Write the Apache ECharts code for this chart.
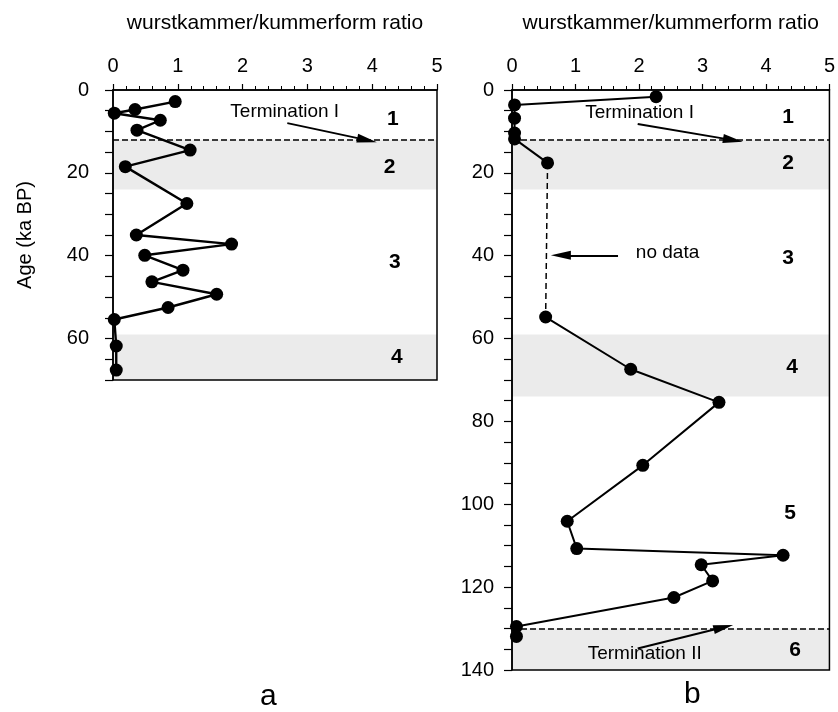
<!DOCTYPE html>
<html>
<head>
<meta charset="utf-8">
<script src="https://cdn.jsdelivr.net/npm/echarts@6/dist/echarts.min.js"></script>
<style>html,body{margin:0;padding:0;background:#fff}#c{width:838px;height:712px}</style>
</head>
<body>
<div id="c"></div>
<script>
// ---- data (panel a) ----
const aRatio = [0.96, 0.34, 0.02, 0.73, 0.37, 1.19, 0.19, 1.14, 0.36, 1.83, 0.49, 1.08, 0.60, 1.60, 0.85, 0.02, 0.05, 0.05];
const aAge   = [2.8, 4.7, 5.6, 7.3, 9.7, 14.5, 18.5, 27.4, 35.0, 37.2, 39.9, 43.5, 46.3, 49.3, 52.5, 55.4, 61.8, 67.6];
// ---- data (panel b) ----
const bTopRatio = [2.27, 0.04, 0.04, 0.04, 0.04, 0.56];
const bTopAge   = [1.6, 3.6, 6.8, 10.4, 11.8, 17.6];
const bBotRatio = [0.53, 1.87, 3.26, 2.06, 0.87, 1.02, 4.27, 2.98, 3.16, 2.55, 0.07, 0.07];
const bBotAge   = [54.8, 67.4, 75.4, 90.6, 104.1, 110.7, 112.3, 114.6, 118.5, 122.5, 129.5, 131.9];
// ---- axes ----
const xTicks = [0, 1, 2, 3, 4, 5];
const aAgeMax = 70, bAgeMax = 140;
// ---- stage bands [from, to] and terminations ----
const aBands = [[12, 24], [59, 70]];
const bBands = [[12, 24], [59, 74], [130, 140]];
const aTerm = [12];
const bTerm = [12, 130];
// ---- annotation texts [ratio, age, text, bold] ----
const aLabels = [[2.65, 5.3, 'Termination I', false], [4.32, 7.0, '1', true], [4.27, 18.6, '2', true], [4.35, 41.5, '3', true], [4.38, 64.5, '4', true]];
const bLabels = [[2.01, 5.6, 'Termination I', false], [4.35, 6.5, '1', true], [4.35, 17.6, '2', true], [4.35, 40.6, '3', true], [4.41, 66.9, '4', true], [4.38, 102.2, '5', true], [4.46, 135.3, '6', true], [2.45, 39.4, 'no data', false], [2.09, 136.0, 'Termination II', false]];
const aArrows = [[[2.69, 8.0], [3.92, 12.1]]];
const bArrows = [[[1.98, 8.2], [3.48, 12.1]], [[1.67, 39.9], [0.77, 39.9]], [[1.98, 134.8], [3.33, 129.7]]];

const FONT = 'Liberation Sans, Arial, Helvetica, sans-serif';
const pairs = (xs, ys) => xs.map((v, i) => [v, ys[i]]);

function xAxisCfg(gi) {
  return {
    type: 'value', gridIndex: gi, position: 'top', min: xTicks[0], max: xTicks[xTicks.length - 1], interval: 1,
    name: 'wurstkammer/kummerform ratio', nameLocation: 'middle', nameGap: 56,
    nameTextStyle: { fontFamily: FONT, fontSize: 21, color: '#000' },
    axisLine: { lineStyle: { color: '#000', width: 1.5 } },
    axisTick: { inside: false, length: 6, lineStyle: { color: '#000', width: 1.2 } },
    minorTick: { show: true, splitNumber: 5, length: 4, lineStyle: { color: '#000', width: 1 } },
    axisLabel: { fontFamily: FONT, fontSize: 20, color: '#000', margin: 14 },
    splitLine: { show: false }
  };
}
function yAxisCfg(gi, max, withName, margin) {
  return {
    type: 'value', gridIndex: gi, inverse: true, min: 0, max: max, interval: 20,
    name: withName ? 'Age (ka BP)' : '', nameLocation: 'middle', nameGap: 78,
    nameTextStyle: { fontFamily: FONT, fontSize: 20, color: '#000' },
    axisLine: { lineStyle: { color: '#000', width: 1.5 } },
    axisTick: { length: 8, lineStyle: { color: '#000', width: 1.2 } },
    minorTick: { show: true, splitNumber: 4, length: 8, lineStyle: { color: '#000', width: 1.2 } },
    axisLabel: { fontFamily: FONT, fontSize: 20, color: '#000', margin: margin,
      formatter: v => (v % 20 === 0 ? String(v) : '') },
    splitLine: { show: false }
  };
}
function bandArea(bands) {
  return {
    silent: true,
    itemStyle: { color: 'rgba(0,0,0,0.08)' },
    data: bands.map(b => [{ yAxis: b[0] }, { yAxis: b[1] }])
  };
}
function termLines(ts) {
  return {
    silent: true, symbol: 'none', label: { show: false },
    lineStyle: { color: '#000', type: [6, 3], width: 1.5 },
    data: ts.map(t => ({ yAxis: t }))
  };
}
function labelSeries(gi, labels) {
  return {
    type: 'scatter', xAxisIndex: gi, yAxisIndex: gi, symbolSize: 0, silent: true,
    itemStyle: { opacity: 1 },
    data: labels.map(l => ({ value: [l[0], l[1]], label: {
      show: true, position: 'inside', formatter: l[2], color: '#000', fontFamily: FONT,
      fontSize: l[3] ? 21 : 19, fontWeight: l[3] ? 'bold' : 'normal' } }))
  };
}
function arrowSeries(gi, arrows) {
  return {
    type: 'line', xAxisIndex: gi, yAxisIndex: gi, data: [], silent: true,
    markLine: {
      silent: true, symbol: ['none', 'triangle'], symbolSize: [9, 20], label: { show: false },
      lineStyle: { color: '#000', type: 'solid', width: 2 },
      itemStyle: { color: '#000' },
      data: arrows.map(a => [{ coord: a[0] }, { coord: a[1] }])
    }
  };
}
const pointStyle = {
  type: 'line', symbol: 'circle', symbolSize: 13, showSymbol: true,
  lineStyle: { color: '#000', width: 2 }, itemStyle: { color: '#000' }
};

const bTop = pairs(bTopRatio, bTopAge);
const bBot = pairs(bBotRatio, bBotAge);

const option = {
  animation: false,
  backgroundColor: '#fff',
  grid: [
    { left: 113, top: 90, width: 324, height: 290, show: true, borderColor: '#000', borderWidth: 1.5 },
    { left: 512, top: 90, width: 323, height: 580, show: true, borderColor: '#000', borderWidth: 1.5 }
  ],
  xAxis: [xAxisCfg(0), xAxisCfg(1)],
  yAxis: [yAxisCfg(0, aAgeMax, true, 24), yAxisCfg(1, bAgeMax, false, 18)],
  series: [
    Object.assign({}, pointStyle, { xAxisIndex: 0, yAxisIndex: 0, data: pairs(aRatio, aAge),
      lineStyle: { color: '#000', width: 2.4 },
      markArea: bandArea(aBands), markLine: termLines(aTerm) }),
    labelSeries(0, aLabels),
    arrowSeries(0, aArrows),
    Object.assign({}, pointStyle, { xAxisIndex: 1, yAxisIndex: 1, data: bTop,
      markArea: bandArea(bBands), markLine: termLines(bTerm) }),
    Object.assign({}, pointStyle, { xAxisIndex: 1, yAxisIndex: 1, data: bBot }),
    { type: 'line', xAxisIndex: 1, yAxisIndex: 1, symbol: 'none', silent: true,
      lineStyle: { color: '#000', width: 1.5, type: [6, 4] },
      data: [bTop[bTop.length - 1], bBot[0]], z: 1 },
    labelSeries(1, bLabels),
    arrowSeries(1, bArrows)
  ],
  graphic: [
    { type: 'text', left: 260, top: 682, style: { text: 'a', font: '30px ' + FONT, fill: '#000' } },
    { type: 'text', left: 684, top: 680, style: { text: 'b', font: '30px ' + FONT, fill: '#000' } }
  ]
};
echarts.init(document.getElementById('c')).setOption(option);
</script>
</body>
</html>
